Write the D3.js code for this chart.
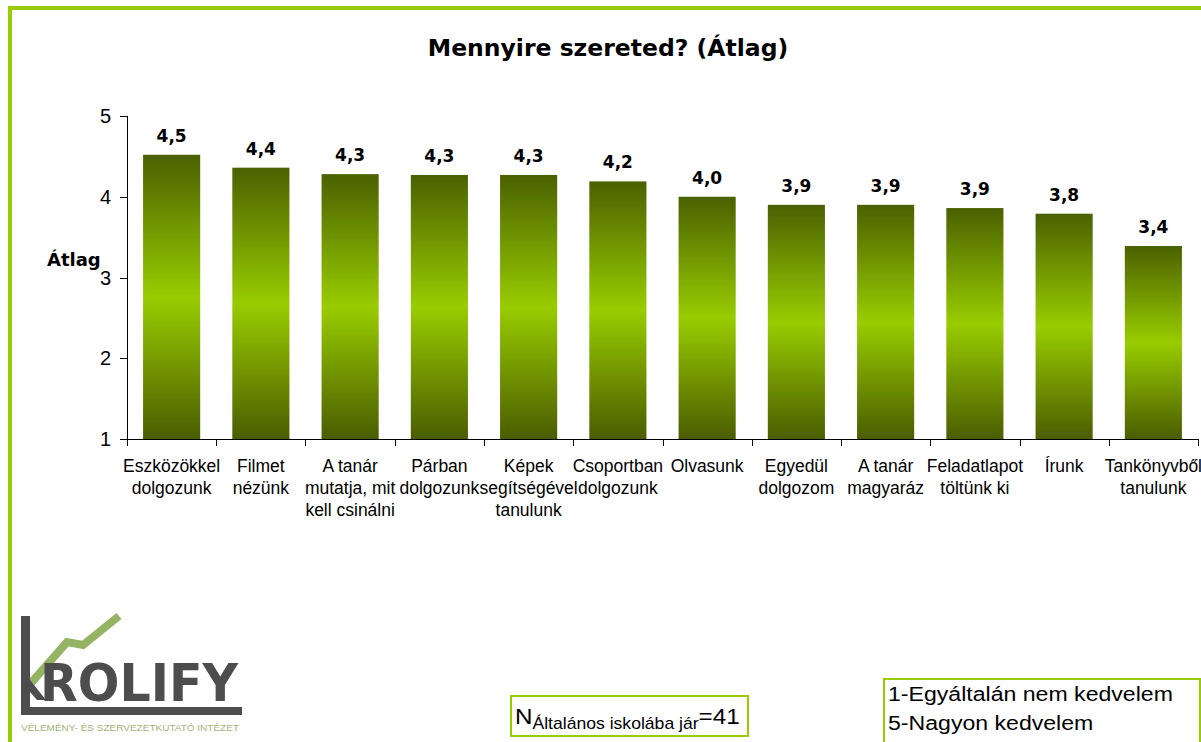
<!DOCTYPE html>
<html>
<head>
<meta charset="utf-8">
<script src="https://cdnjs.cloudflare.com/ajax/libs/d3/7.8.5/d3.min.js"></script>
<style type='text/css'>
body {
  margin: 0;
  background: #fff;
}
svg {
  display: block;
}
text.title, text.vlabel, text.ylabel {
  font-family: "DejaVu Sans", Verdana, sans-serif;
  font-weight: bold;
  fill: #000;
}
text.cat, text.tick, text.note {
  font-family: "Liberation Sans", Arial, sans-serif;
  fill: #000;
}
line.axis {
  stroke: #000;
  stroke-width: 1;
  shape-rendering: crispEdges;
}
rect.box {
  fill: #fff;
  stroke: #99cc00;
  stroke-width: 2;
}
</style>
</head>
<body>
<div id="chart"></div>
<script type='text/javascript'>
// data
var categories = [
  ["Eszközökkel", "dolgozunk"],
  ["Filmet", "nézünk"],
  ["A tanár", "mutatja, mit", "kell csinálni"],
  ["Párban", "dolgozunk"],
  ["Képek", "segítségével", "tanulunk"],
  ["Csoportban", "dolgozunk"],
  ["Olvasunk"],
  ["Egyedül", "dolgozom"],
  ["A tanár", "magyaráz"],
  ["Feladatlapot", "töltünk ki"],
  ["Írunk"],
  ["Tankönyvből", "tanulunk"]
];
var averages = [4.52, 4.36, 4.28, 4.27, 4.27, 4.19, 4.00, 3.90, 3.90, 3.86, 3.79, 3.39];
var yTicks = [1, 2, 3, 4, 5];
var legendLines = ["1-Egyáltalán nem kedvelem", "5-Nagyon kedvelem"];

var width = 1201,
    height = 742;

var svg = d3.select("div#chart").append("svg")
    .attr("width", width)
    .attr("height", height);

var defs = svg.append("defs");
var grad = defs.append("linearGradient")
    .attr("id", "barfill")
    .attr("x1", 0).attr("y1", 0)
    .attr("x2", 0).attr("y2", 1);
grad.append("stop").attr("offset", "0%").attr("stop-color", "#4a6100");
grad.append("stop").attr("offset", "50%").attr("stop-color", "#99cc00");
grad.append("stop").attr("offset", "100%").attr("stop-color", "#4a5d00");

// green frame (open to the right and bottom)
svg.append("path")
    .attr("d", "M10,742 L10,8 L1201,8")
    .attr("fill", "none")
    .attr("stroke", "#99cc00")
    .attr("stroke-width", 4);

var x0 = 127, x1 = 1198, yTop = 116, yBot = 439;

var xsc = d3.scaleBand()
    .domain(d3.range(categories.length))
    .range([x0, x1])
    .paddingInner(0.36)
    .paddingOuter(0.18);
var ysc = d3.scaleLinear().domain([1, 5]).range([yBot, yTop]);

svg.append("text")
    .attr("class", "title")
    .attr("x", 608)
    .attr("y", 56)
    .attr("text-anchor", "middle")
    .style("font-size", "23.5px")
    .text("Mennyire szereted? (Átlag)");

svg.append("text")
    .attr("class", "ylabel")
    .attr("x", 47)
    .attr("y", 266)
    .style("font-size", "18px")
    .text("Átlag");

// bars
svg.selectAll("rect.bar")
    .data(averages)
  .enter().append("rect")
    .attr("class", "bar")
    .attr("x", function(d, i) { return xsc(i); })
    .attr("y", function(d) { return ysc(d); })
    .attr("width", xsc.bandwidth())
    .attr("height", function(d) { return ysc(1) - ysc(d); })
    .attr("fill", "url(#barfill)");

var fmt = d3.format(".1f");
svg.selectAll("text.vlabel")
    .data(averages)
  .enter().append("text")
    .attr("class", "vlabel")
    .attr("x", function(d, i) { return xsc(i) + xsc.bandwidth() / 2; })
    .attr("y", function(d) { return ysc(d) - 13; })
    .attr("text-anchor", "middle")
    .style("font-size", "17px")
    .text(function(d) { return fmt(d).replace(".", ","); });

// y axis
svg.append("line").attr("class", "axis")
    .attr("x1", x0 + 0.5).attr("x2", x0 + 0.5)
    .attr("y1", ysc(5)).attr("y2", ysc(1));
yTicks.forEach(function(t) {
  svg.append("line").attr("class", "axis")
      .attr("x1", x0 - 7).attr("x2", x0)
      .attr("y1", Math.round(ysc(t)) + 0.5).attr("y2", Math.round(ysc(t)) + 0.5);
  svg.append("text").attr("class", "tick")
      .attr("x", x0 - 16)
      .attr("y", ysc(t) + 7)
      .attr("text-anchor", "end")
      .style("font-size", "20px")
      .text(t);
});

// x axis with ticks at category boundaries
var step = xsc.step();
var bandStart = xsc(0) - xsc.paddingOuter() * step;
svg.append("line").attr("class", "axis")
    .attr("x1", x0 - 7).attr("x2", x1)
    .attr("y1", Math.round(ysc(1)) + 0.5).attr("y2", Math.round(ysc(1)) + 0.5);
d3.range(categories.length + 1).forEach(function(i) {
  var xx = Math.round(bandStart + i * (x1 - x0) / categories.length) + 0.5;
  svg.append("line").attr("class", "axis")
      .attr("x1", xx).attr("x2", xx)
      .attr("y1", ysc(1)).attr("y2", ysc(1) + 7);
});

// category labels
categories.forEach(function(lines, i) {
  var cx = xsc(i) + xsc.bandwidth() / 2;
  var t = svg.append("text").attr("class", "cat")
      .attr("text-anchor", "middle")
      .style("font-size", "17.5px");
  lines.forEach(function(s, j) {
    t.append("tspan")
        .attr("x", cx)
        .attr("y", 472 + j * 22)
        .text(s);
  });
});

// logo
var logo = svg.append("g").attr("class", "logo");
logo.append("path")
    .attr("d", "M31,683 L67,642 L83,645 L119,616")
    .attr("fill", "none")
    .attr("stroke", "#95b463")
    .attr("stroke-width", 8);
logo.append("rect").attr("x", 21).attr("y", 616).attr("width", 9).attr("height", 99).attr("fill", "#4d4d4d");
logo.append("rect").attr("x", 21).attr("y", 707).attr("width", 221).attr("height", 8).attr("fill", "#4d4d4d");
logo.append("path")
    .attr("d", "M30,680 L46,700 L37,700 L30,692 Z")
    .attr("fill", "#4d4d4d");
logo.append("text")
    .attr("x", 40)
    .attr("y", 701)
    .attr("textLength", 198)
    .attr("lengthAdjust", "spacingAndGlyphs")
    .style("font-family", "'DejaVu Sans', sans-serif")
    .style("font-weight", "bold")
    .style("font-size", "52px")
    .attr("fill", "#4d4d4d")
    .text("ROLIFY");
logo.append("text")
    .attr("x", 21)
    .attr("y", 731)
    .attr("textLength", 218)
    .attr("lengthAdjust", "spacingAndGlyphs")
    .style("font-family", "'Liberation Sans', Arial, sans-serif")
    .style("font-size", "9px")
    .attr("fill", "#a3b47a")
    .text("VÉLEMÉNY- ÉS SZERVEZETKUTATÓ INTÉZET");

// N box
svg.append("rect").attr("class", "box")
    .attr("x", 511).attr("y", 696).attr("width", 237).attr("height", 40);
var nt = svg.append("text").attr("class", "note")
    .attr("transform", "translate(515,724) scale(1.1,1)")
    .style("font-size", "22px");
nt.append("tspan").text("N");
nt.append("tspan").attr("dy", 5).style("font-size", "16px").text("Általános iskolába jár");
nt.append("tspan").attr("dy", -5).text("=41");

// scale legend box
svg.append("rect").attr("class", "box")
    .attr("x", 884).attr("y", 679).attr("width", 316).attr("height", 70);
legendLines.forEach(function(s, j) {
  svg.append("text").attr("class", "note")
      .attr("transform", "translate(888," + (701 + j * 29) + ") scale(1.1,1)")
      .style("font-size", "21px")
      .text(s);
});
</script>
</body>
</html>
